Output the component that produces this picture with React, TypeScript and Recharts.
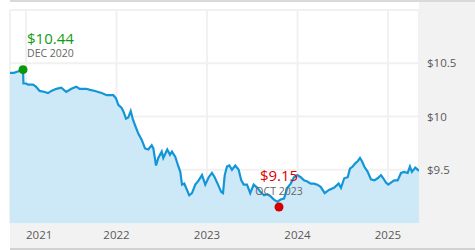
import React from "react";
import { AreaChart, Area, XAxis, YAxis, CartesianGrid, ReferenceDot } from "recharts";

// time as decimal years, price in dollars
const years = [
  2020.823, 2020.867, 2020.901, 2020.934, 2020.967, 2020.972, 2021.0, 2021.022, 2021.077, 2021.11,
  2021.151, 2021.207, 2021.243, 2021.28, 2021.335, 2021.39, 2021.445, 2021.501, 2021.556, 2021.593,
  2021.666, 2021.707, 2021.762, 2021.836, 2021.892, 2021.965, 2021.994, 2022.02, 2022.057, 2022.075,
  2022.105, 2022.13, 2022.157, 2022.179, 2022.204, 2022.241, 2022.279, 2022.315, 2022.351, 2022.389,
  2022.407, 2022.437, 2022.462, 2022.5, 2022.517, 2022.561, 2022.591, 2022.613, 2022.65, 2022.68,
  2022.705, 2022.724, 2022.749, 2022.779, 2022.804, 2022.834, 2022.871, 2022.908, 2022.945, 2022.981,
  2023.019, 2023.055, 2023.085, 2023.122, 2023.158, 2023.177, 2023.196, 2023.221, 2023.247, 2023.276,
  2023.313, 2023.35, 2023.379, 2023.406, 2023.442, 2023.478, 2023.516, 2023.556, 2023.593, 2023.63,
  2023.666, 2023.704, 2023.74, 2023.777, 2023.814, 2023.851, 2023.888, 2023.925, 2023.961, 2023.998,
  2024.036, 2024.072, 2024.108, 2024.146, 2024.182, 2024.219, 2024.256, 2024.301, 2024.348, 2024.403,
  2024.455, 2024.481, 2024.517, 2024.555, 2024.58, 2024.61, 2024.639, 2024.665, 2024.691, 2024.713,
  2024.738, 2024.776, 2024.812, 2024.849, 2024.886, 2024.923, 2024.948, 2024.978, 2025.003, 2025.033,
  2025.07, 2025.107, 2025.144, 2025.18, 2025.218, 2025.243, 2025.265, 2025.302, 2025.343,
];
const prices = [
  10.41, 10.41, 10.42, 10.43, 10.44, 10.31, 10.31, 10.3, 10.3, 10.28,
  10.24, 10.23, 10.22, 10.24, 10.26, 10.27, 10.23, 10.26, 10.28, 10.26,
  10.26, 10.25, 10.24, 10.22, 10.2, 10.2, 10.17, 10.11, 10.08, 10.05,
  9.98, 9.99, 10.05, 9.98, 9.92, 9.84, 9.78, 9.7, 9.69, 9.73,
  9.7, 9.54, 9.61, 9.67, 9.61, 9.69, 9.64, 9.67, 9.62, 9.54,
  9.48, 9.36, 9.37, 9.31, 9.26, 9.28, 9.36, 9.4, 9.45, 9.36,
  9.43, 9.47, 9.43, 9.36, 9.29, 9.28, 9.45, 9.53, 9.54, 9.5,
  9.54, 9.5, 9.4, 9.36, 9.36, 9.28, 9.36, 9.33, 9.29, 9.26,
  9.27, 9.25, 9.22, 9.2, 9.22, 9.23, 9.33, 9.37, 9.43, 9.45,
  9.43, 9.4, 9.39, 9.37, 9.37, 9.36, 9.34, 9.28, 9.31, 9.33,
  9.37, 9.33, 9.42, 9.43, 9.51, 9.53, 9.56, 9.58, 9.61, 9.58,
  9.53, 9.48, 9.41, 9.4, 9.42, 9.45, 9.42, 9.38, 9.36, 9.38,
  9.4, 9.4, 9.47, 9.48, 9.47, 9.53, 9.48, 9.52, 9.49,
];

const yearTicks = [2021, 2022, 2023, 2024, 2025];
const priceTicks = [9, 9.5, 10, 10.5, 11];

const HIGH = { t: 2020.967, v: 10.44, label: "$10.44", date: "DEC 2020" };
const LOW = { t: 2023.796, v: 9.15, label: "$9.15", date: "OCT 2023" };

const FONT = "'Open Sans', sans-serif";
const GRID = "#f1f1f1";
const PANEL = "#f2f2f2";

const rows = years.map((t, i) => ({ t, v: prices[i] }));

const XTick = (p: any) => {
  const first = p.index === 0;
  return (
    <text
      x={p.x}
      y={p.y}
      dy="0.71em"
      textAnchor={first ? "start" : "middle"}
      fill="#595959"
      fontSize={11.5}
      fontFamily={FONT}
    >
      {p.payload.value}
    </text>
  );
};

const HighMark = (p: any) => (
  <g>
    <circle cx={p.cx} cy={p.cy} r={4.5} fill="#0b970b" />
    <text x={p.cx + 4} y={p.cy - 26} fill="#129c12" fontSize={15} fontFamily={FONT}>
      {HIGH.label}
    </text>
    <text x={p.cx + 4} y={p.cy - 12.5} fill="#666" fontSize={10.5} fontFamily={FONT}>
      {HIGH.date}
    </text>
  </g>
);

const LowMark = (p: any) => (
  <g>
    <circle cx={p.cx} cy={p.cy} r={4.5} fill="#d40000" />
    <text x={p.cx} y={p.cy - 26.5} textAnchor="middle" fill="#e00000" fontSize={15} fontFamily={FONT}>
      {LOW.label}
    </text>
    <text x={p.cx} y={p.cy - 12} textAnchor="middle" fill="#666" fontSize={10.5} fontFamily={FONT}>
      {LOW.date}
    </text>
  </g>
);

export default function App() {
  return (
    <div style={{ position: "relative", width: 475, height: 250, background: "#fff" }}>
      <style>{`body{margin:0}`}</style>
      <div style={{ position: "absolute", left: 10, top: 0, width: 465, height: 2, background: "#d9d9d9" }} />
      <div style={{ position: "absolute", left: 419, top: 2, width: 56, height: 246, background: PANEL }} />
      <div style={{ position: "absolute", left: 10, top: 223, width: 409, height: 25, background: PANEL }} />
      <div style={{ position: "absolute", left: 10, top: 248, width: 465, height: 2, background: "#d2d2d2" }} />
      <div style={{ position: "absolute", left: 0, top: 0 }}>
        <AreaChart width={475} height={250} data={rows} margin={{ top: 10, right: 0, bottom: 0, left: 10 }}>
          <Area
            type="linear"
            dataKey="v"
            stroke="#1396d8"
            strokeWidth={2.2}
            fill="#cde9f7"
            fillOpacity={1}
            dot={false}
            activeDot={false}
            isAnimationActive={false}
          />
          <CartesianGrid stroke={GRID} strokeWidth={2} />
          <XAxis
            dataKey="t"
            type="number"
            domain={[2020.823, 2025.343]}
            ticks={yearTicks}
            allowDataOverflow
            axisLine={false}
            tickLine={false}
            height={27}
            tick={<XTick />}
          />
          <YAxis
            orientation="right"
            type="number"
            domain={[9, 11]}
            ticks={priceTicks}
            allowDataOverflow
            axisLine={false}
            tickLine={false}
            width={56}
            tickFormatter={(v: number) => (v === 9 || v === 11 ? "" : `$${v}`)}
            tick={{ fill: "#595959", fontSize: 11.5, fontFamily: FONT }}
          />
          <ReferenceDot x={HIGH.t} y={HIGH.v} r={4.5} shape={<HighMark />} />
          <ReferenceDot x={LOW.t} y={LOW.v} r={4.5} shape={<LowMark />} />
        </AreaChart>
      </div>
    </div>
  );
}
